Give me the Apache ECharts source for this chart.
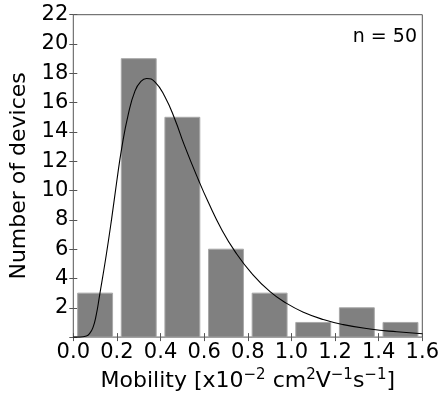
<!DOCTYPE html>
<html>
<head>
<meta charset="utf-8">
<script src="https://cdn.jsdelivr.net/npm/echarts@6/dist/echarts.min.js"></script>
<style>
    html, body { margin: 0; padding: 0; background: #fff; }
    #chart { width: 443px; height: 397px; }
</style>
</head>
<body>
<div id="chart"></div>
<script>
// 直方图各区间起点和器件数
var binStarts = [0.0, 0.2, 0.4, 0.6, 0.8, 1.0, 1.2, 1.4];
var counts = [3, 19, 15, 6, 3, 1, 2, 1];
// 拟合曲线 (从图上读出的点)
var fitX = [0, 0.03, 0.06, 0.075, 0.09, 0.105, 0.12, 0.15, 0.176, 0.199, 0.222, 0.252, 0.283, 0.31, 0.336, 0.375, 0.42, 0.466, 0.509, 0.573, 0.619, 0.68, 0.741, 0.818, 0.902, 0.978, 1.055, 1.146, 1.238, 1.36, 1.483, 1.6];
var fitY = [0, 0, 0.07, 0.25, 0.65, 1.5, 2.8, 5.5, 8.1, 10.6, 12.9, 15.2, 16.8, 17.45, 17.65, 17.4, 16.4, 14.85, 13.1, 10.75, 9.2, 7.35, 5.85, 4.35, 3.1, 2.3, 1.7, 1.2, 0.85, 0.55, 0.36, 0.23];
var sampleCount = 'n = 50';

var font = 'DejaVu Sans';
var lineColor = '#555';

var chart = echarts.init(document.getElementById('chart'), null, {renderer: 'canvas'});

var barData = binStarts.map(function (s, i) {
    return [s, counts[i]];
});
var fitData = fitX.map(function (x, i) {
    return [x, fitY[i]];
});

function $extend(base, extra) {
    return Object.assign({}, base, extra);
}

var baseX = {
    type: 'value',
    min: 0,
    max: 1.6,
    interval: 0.2,
    axisLine: {show: false},
    axisTick: {show: true, inside: true, length: 4, lineStyle: {color: lineColor}},
    splitLine: {show: false}
};
var baseY = {
    type: 'value',
    min: 0,
    max: 22,
    interval: 2,
    axisLine: {show: false},
    axisTick: {show: true, inside: true, length: 4, lineStyle: {color: lineColor}},
    splitLine: {show: false}
};

var option = {
    animation: false,
    backgroundColor: '#fff',
    grid: {
        left: 73.3, right: 20.7, top: 14.7, bottom: 57.7,
        show: true, borderColor: lineColor, borderWidth: 1
    },
    xAxis: [
        $extend(baseX, {
            position: 'bottom',
            axisLabel: {
                color: '#000', fontFamily: font, fontSize: 21, margin: 5,
                formatter: function (v) { return v.toFixed(1); }
            },
            name: '{t|Mobility [x10}{s|−2}{t| cm}{s|2}{t|V}{s|−1}{t|s}{s|−1}{t|]}',
            nameLocation: 'middle',
            nameGap: 30,
            nameTextStyle: {
                rich: {
                    t: {fontFamily: font, fontSize: 22, color: '#000', lineHeight: 26},
                    s: {fontFamily: font, fontSize: 15, color: '#000', lineHeight: 26, verticalAlign: 'top', padding: [0, 0, 6, 0]}
                }
            }
        }),
        $extend(baseX, {position: 'top', axisLabel: {show: false}})
    ],
    yAxis: [
        $extend(baseY, {
            position: 'left',
            axisLabel: {
                color: '#000', fontFamily: font, fontSize: 21, margin: 5,
                formatter: function (v) { return v === 0 ? '' : String(v); }
            },
            name: 'Number of devices',
            nameLocation: 'middle',
            nameGap: 36,
            nameTextStyle: {color: '#000', fontFamily: font, fontSize: 22}
        }),
        $extend(baseY, {position: 'right', axisLabel: {show: false}})
    ],
    graphic: [{
        type: 'text',
        right: 26,
        top: 28,
        style: {text: sampleCount, fontFamily: font, fontSize: 19, fill: '#000'}
    }],
    series: [
        {
            type: 'custom',
            data: barData,
            renderItem: function (params, api) {
                var s = api.value(0), h = api.value(1);
                var p1 = api.coord([s + 0.02, h]);
                var p2 = api.coord([s + 0.18, 0]);
                return {
                    type: 'rect',
                    shape: {x: p1[0], y: p1[1], width: p2[0] - p1[0], height: p2[1] - p1[1]},
                    style: {fill: '#808080', stroke: '#a8a8a8', lineWidth: 1}
                };
            },
            z: 1
        },
        {
            type: 'line',
            data: fitData,
            smooth: 0.5,
            showSymbol: false,
            lineStyle: {color: '#000', width: 1.1},
            z: 2
        }
    ]
};

chart.setOption(option);
</script>
</body>
</html>
